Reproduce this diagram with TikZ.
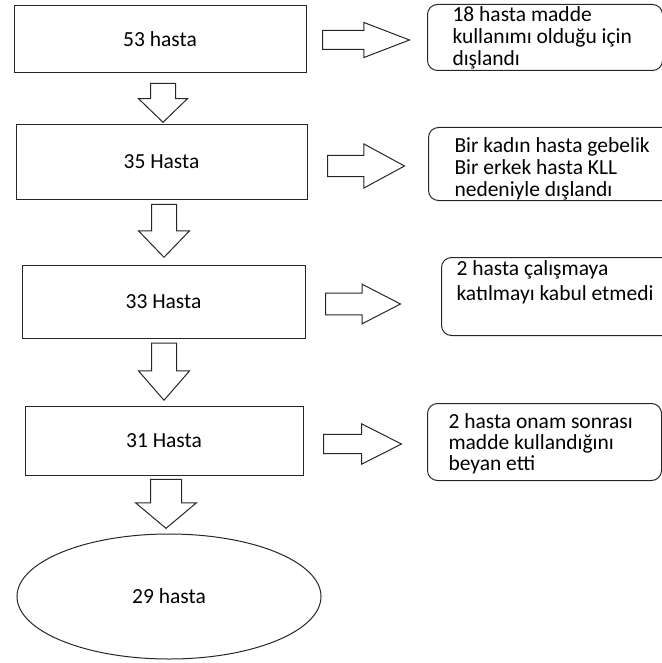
\documentclass[tikz,border=0pt]{standalone}
\usepackage{fontspec}
\setmainfont{Carlito}
\usetikzlibrary{shapes.geometric, shapes.arrows}
\newcommand{\notetext}[2]{\parbox[t]{#1}{\raggedright #2}}

\begin{document}
\begin{tikzpicture}[x=1pt, y=-1pt, font=\fontsize{21.5}{22}\selectfont]
    \tikzset{
        countbox/.style={rectangle, draw=black!85, line width=1pt,
            inner sep=0pt, align=center},
        finalbox/.style={ellipse, draw=black!85, line width=1pt, inner sep=0pt},
        exclnote/.style={rectangle, rounded corners=10pt, draw=black!85,
            line width=1pt, anchor=north west, inner ysep=0pt},
        downarrow/.style={single arrow, draw=black!85, line width=1pt,
            rotate=-90, anchor=tip, inner xsep=0pt, inner ysep=12pt,
            single arrow head extend=13pt},
        rightarrow/.style={single arrow, draw=black!85, line width=1pt,
            anchor=tail, inner xsep=0pt, inner ysep=9.5pt,
            single arrow head extend=10pt}
    }
    \useasboundingbox (0,0) rectangle (661,663);
    \node[countbox, minimum width=292pt, minimum height=67pt] (h53) at (160,39.5) {53 hasta};
    \node[countbox, minimum width=291pt, minimum height=74pt] (h35) at (161.5,162) {35 Hasta};
    \node[countbox, minimum width=283pt, minimum height=73pt] (h33) at (163.5,301.5) {33 Hasta};
    \node[countbox, minimum width=278pt, minimum height=69pt] (h31) at (164,440.5) {31 Hasta};
    \node[finalbox, minimum width=304pt, minimum height=125pt] (h29) at (169,596.5) {29 hasta};
    \node[downarrow, minimum height=39pt, single arrow head extend=12pt,
        single arrow tip angle=92] (d1) at (163,123) {};
    \node[downarrow, minimum height=53pt, single arrow tip angle=88] (d2) at (164,258) {};
    \node[downarrow, minimum height=57pt, single arrow tip angle=82] (d3) at (164,401) {};
    \node[downarrow, minimum height=49pt, inner ysep=15pt, single arrow head extend=15pt,
        single arrow tip angle=100] (d4) at (166,529) {};
    \node[rightarrow, minimum height=87pt, inner ysep=9pt, single arrow head extend=8pt,
        single arrow tip angle=42] (r1) at (322,40) {};
    \node[rightarrow, minimum height=77pt, inner ysep=10pt, single arrow head extend=11.5pt,
        single arrow tip angle=57] (r2) at (327,166) {};
    \node[rightarrow, minimum height=75pt, inner ysep=10.3pt, single arrow head extend=9pt,
        single arrow tip angle=54.5] (r3) at (325,304) {};
    \node[rightarrow, minimum height=78pt, inner ysep=9.2pt, single arrow head extend=10.5pt,
        single arrow tip angle=53.6] (r4) at (323,444) {};
    \node[exclnote, inner xsep=25pt, text height=17pt, text depth=49pt] (n18) at (427,4)
        {\notetext{185pt}{18 hasta madde\\kullanımı olduğu için\\dışlandı}};
    \node[exclnote, inner xsep=26pt, text height=25pt, text depth=48pt] (nkll) at (428,127)
        {\notetext{200pt}{Bir kadın hasta gebelik\\Bir erkek hasta KLL\\nedeniyle dışlandı}};
    \node[exclnote, inner xsep=15pt, text height=18pt, text depth=60pt] (nret) at (441,257)
        {\notetext{205pt}{\fontsize{21.5}{25}\selectfont 2 hasta çalışmaya\\katılmayı kabul etmedi}};
    \node[exclnote, inner xsep=21pt, text height=25pt, text depth=52pt] (nonam) at (427,403)
        {\notetext{192pt}{\fontsize{21.5}{21}\selectfont 2 hasta onam sonrası\\madde kullandığını\\beyan etti}};
\end{tikzpicture}
\end{document}
